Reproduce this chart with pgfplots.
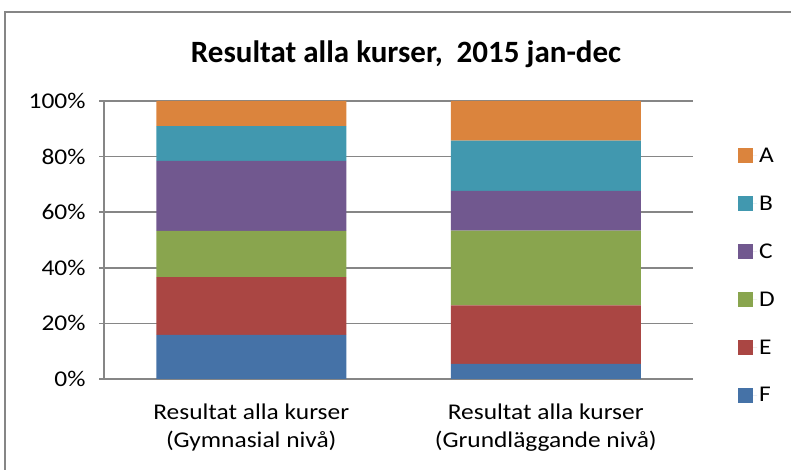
\documentclass[border=0pt]{standalone}
\usepackage{fontspec}
\setmainfont{Carlito}[FakeStretch=1.13]
\newfontfamily\titlefont{Carlito}
\usepackage{pgfplots}
\pgfplotsset{compat=1.18}
\definecolor{cA}{HTML}{DB843D}
\definecolor{cB}{HTML}{4198AF}
\definecolor{cC}{HTML}{71588F}
\definecolor{cD}{HTML}{89A54E}
\definecolor{cE}{HTML}{AA4643}
\definecolor{cF}{HTML}{4572A7}
\definecolor{gridc}{HTML}{868686}
\begin{document}
\begin{tikzpicture}
\path[use as bounding box] (0pt,0pt) rectangle (791pt,470pt);
\draw[gridc, line width=1.5pt] (5pt,-5pt) -- (5pt,458pt) -- (800pt,458pt);
\node[font=\titlefont\fontsize{31}{34}\selectfont\bfseries] at (406pt,416pt) {Resultat alla kurser,\ \ 2015 jan-dec};
\begin{axis}[at={(104pt,91pt)}, anchor=south west, scale only axis,
  width=589pt, height=278pt,
  ybar stacked, bar width=190pt,
  xmin=-0.5, xmax=1.5, ymin=0, ymax=100,
  ytick={0,20,...,100},
  yticklabel={\pgfmathprintnumber{\tick}\%},
  /pgf/number format/assume math mode=true,
  xtick={0,1},
  xticklabels={{Resultat alla kurser\\(Gymnasial nivå)},{Resultat alla kurser\\(Grundläggande nivå)}},
  xticklabel style={align=center, font=\fontsize{22.5}{28.5}\selectfont, yshift=-16pt},
  yticklabel style={font=\fontsize{22.5}{26}\selectfont, xshift=-10pt},
  axis x line*=bottom, axis y line*=left,
  axis line style={gridc, line width=1.5pt},
  ymajorgrids, grid style={gridc, line width=1.5pt},
  tick align=outside, major tick length=5pt,
  ytick style={gridc, line width=1.5pt},
  xtick style={draw=none},
  reverse legend,
  legend cell align=left,
  legend style={at={(1.071,0.372)}, anchor=west, draw=none, fill=none,
    font=\fontsize{22.5}{26}\selectfont, row sep=32pt,
    nodes={inner ysep=0pt, inner xsep=2pt, outer sep=0pt}},
  legend image code/.code={\fill[#1] (0pt,-7.5pt) rectangle (15pt,7.5pt); \path (0pt,0pt) -- (19pt,0pt);},
]
\addplot[fill=cF, draw=none] coordinates {(0,15.9) (1,5.4)};
\addplot[fill=cE, draw=none] coordinates {(0,20.7) (1,21.1)};
\addplot[fill=cD, draw=none] coordinates {(0,16.7) (1,26.9)};
\addplot[fill=cC, draw=none] coordinates {(0,25.2) (1,14.3)};
\addplot[fill=cB, draw=none] coordinates {(0,12.5) (1,18.0)};
\addplot[fill=cA, draw=none] coordinates {(0,9.0) (1,14.3)};
\legend{F,E,D,C,B,A}
\end{axis}
\end{tikzpicture}
\end{document}
